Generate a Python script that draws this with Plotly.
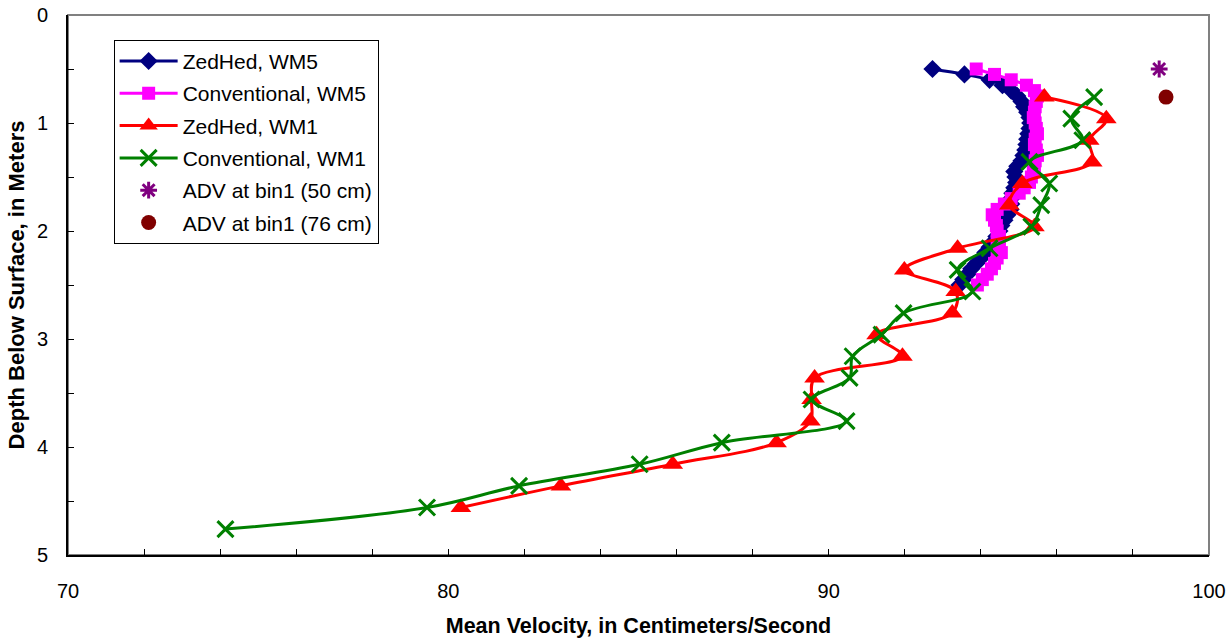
import plotly.graph_objects as go

# ---------------- data ----------------
depth_wm5 = [0.50, 0.55, 0.60, 0.65, 0.70, 0.75, 0.80, 0.85, 0.90, 0.95,
             1.00, 1.05, 1.10, 1.15, 1.20, 1.25, 1.30, 1.35, 1.40, 1.45,
             1.50, 1.55, 1.60, 1.65, 1.70, 1.75, 1.80, 1.85, 1.90, 1.95,
             2.00, 2.05, 2.10, 2.15, 2.20, 2.25, 2.30, 2.35, 2.40, 2.45, 2.50]

zedhed_wm5 = [92.73, 93.57, 94.23, 94.57, 94.80, 94.96, 95.07, 95.14, 95.22, 95.28,
              95.30, 95.28, 95.25, 95.22, 95.20, 95.17, 95.12, 95.07, 94.96, 94.88,
              94.91, 94.93, 94.88, 94.83, 94.80, 94.80, 94.78, 94.70, 94.62, 94.54,
              94.49, 94.41, 94.33, 94.23, 94.12, 94.01, 93.88, 93.75, 93.65, 93.54, 93.44]

conv_wm5 = [93.88, 94.36, 94.80, 95.20, 95.41, 95.49, 95.46, 95.43, 95.41, 95.38,
            95.43, 95.46, 95.49, 95.43, 95.41, 95.46, 95.49, 95.43, 95.41, 95.38,
            95.33, 95.28, 95.14, 95.01, 94.80, 94.62, 94.43, 94.30, 94.36, 94.41,
            94.43, 94.49, 94.43, 94.49, 94.54, 94.43, 94.36, 94.28, 94.17, 94.04, 93.91]

depth_zed_wm1 = [0.76, 0.96, 1.16, 1.36, 1.56, 1.76, 1.96, 2.16, 2.36, 2.56,
                 2.76, 2.96, 3.16, 3.36, 3.56, 3.76, 3.96, 4.16, 4.36, 4.56]
zedhed_wm1 = [95.67, 97.30, 96.85, 96.93, 95.09, 94.75, 95.41, 93.39, 91.99, 93.34,
              93.25, 91.26, 91.94, 89.63, 89.55, 89.52, 88.63, 85.90, 82.96, 80.33]

depth_conv_wm1 = [0.76, 0.96, 1.16, 1.36, 1.56, 1.76, 1.96, 2.16, 2.36, 2.56,
                  2.76, 2.96, 3.16, 3.36, 3.56, 3.76, 3.96, 4.16, 4.36, 4.56, 4.76]
conv_wm1 = [96.98, 96.38, 96.67, 95.28, 95.80, 95.59, 95.33, 94.23, 93.39, 93.78,
            91.97, 91.39, 90.63, 90.55, 89.55, 90.47, 87.19, 85.03, 81.86, 79.44, 74.14]

adv50_v = [98.69]
adv50_d = [0.50]
adv76_v = [98.87]
adv76_d = [0.76]

FONT = "Liberation Sans, Arial, sans-serif"

fig = go.Figure()

fig.add_trace(go.Scatter(
    x=zedhed_wm5, y=depth_wm5, name="ZedHed, WM5", mode="lines+markers",
    line=dict(color="#000080", width=3, shape="spline", smoothing=1),
    marker=dict(symbol="diamond", size=14, color="#000080"),
    legendgroup="a"))
fig.add_trace(go.Scatter(
    x=conv_wm5, y=depth_wm5, name="Conventional, WM5", mode="lines+markers",
    line=dict(color="#FF00FF", width=3, shape="spline", smoothing=1),
    marker=dict(symbol="square", size=13, color="#FF00FF"),
    legendgroup="b"))
fig.add_trace(go.Scatter(
    x=zedhed_wm1, y=depth_zed_wm1, name="ZedHed, WM1", mode="lines+markers",
    line=dict(color="#FF0000", width=3, shape="spline", smoothing=1),
    marker=dict(symbol="triangle-up", size=18, color="#FF0000"),
    legendgroup="c"))
fig.add_trace(go.Scatter(
    x=conv_wm1, y=depth_conv_wm1, name="Conventional, WM1", mode="lines+markers",
    line=dict(color="#008000", width=3, shape="spline", smoothing=1),
    marker=dict(symbol="x-thin-open", size=16, color="#008000",
                line=dict(color="#008000", width=3)),
    legendgroup="d"))
fig.add_trace(go.Scatter(
    x=adv50_v, y=adv50_d, name="ADV at bin1 (50 cm)", mode="markers",
    marker=dict(symbol="asterisk-open", size=14, color="#800080",
                line=dict(color="#800080", width=3)),
    legendgroup="e"))
fig.add_trace(go.Scatter(
    x=adv76_v, y=adv76_d, name="ADV at bin1 (76 cm)", mode="markers",
    marker=dict(symbol="circle", size=15, color="#800000"),
    legendgroup="f"))

fig.update_layout(
    width=1230, height=638,
    margin=dict(l=68, r=21, t=15, b=83),
    paper_bgcolor="white", plot_bgcolor="white",
    font=dict(family=FONT, size=20, color="black"),
    showlegend=True,
    legend=dict(x=0.040, y=0.954, xanchor="left", yanchor="top",
                bordercolor="black", borderwidth=1, bgcolor="white",
                font=dict(family=FONT, size=21, color="black"),
                traceorder="grouped", tracegroupgap=2, itemwidth=58),
    shapes=[dict(type="rect", xref="paper", yref="paper", x0=0, x1=1, y0=0, y1=1,
                 line=dict(color="#808080", width=2), layer="below")],
)

fig.update_xaxes(
    range=[70, 100], dtick=10, tick0=70, showgrid=False, zeroline=False,
    showline=True, linecolor="black", linewidth=2, automargin=False,
    ticklabeloverflow="allow",
    ticks="inside", ticklen=6, tickcolor="black", tickwidth=1,
    minor=dict(dtick=2, ticks="inside", ticklen=6, tickcolor="black", showgrid=False),
    ticklabelstandoff=17,
    tickfont=dict(family=FONT, size=20),
    title=dict(text="<b>Mean Velocity, in Centimeters/Second</b>",
               font=dict(family=FONT, size=21.5), standoff=19),
)
fig.update_yaxes(
    range=[5, 0], dtick=1, tick0=0, showgrid=False, zeroline=False,
    showline=True, linecolor="black", linewidth=2, automargin=False,
    ticklabeloverflow="allow",
    ticks="inside", ticklen=6, tickcolor="black", tickwidth=1,
    minor=dict(dtick=0.5, ticks="inside", ticklen=6, tickcolor="black", showgrid=False),
    ticklabelstandoff=14,
    tickfont=dict(family=FONT, size=20),
    title=dict(text="<b>Depth Below Surface, in Meters</b>",
               font=dict(family=FONT, size=22), standoff=6),
)

fig.write_html("out.html",
               config={"displayModeBar": False},
               post_script="document.body.style.margin='0px';document.body.style.overflow='hidden';")
